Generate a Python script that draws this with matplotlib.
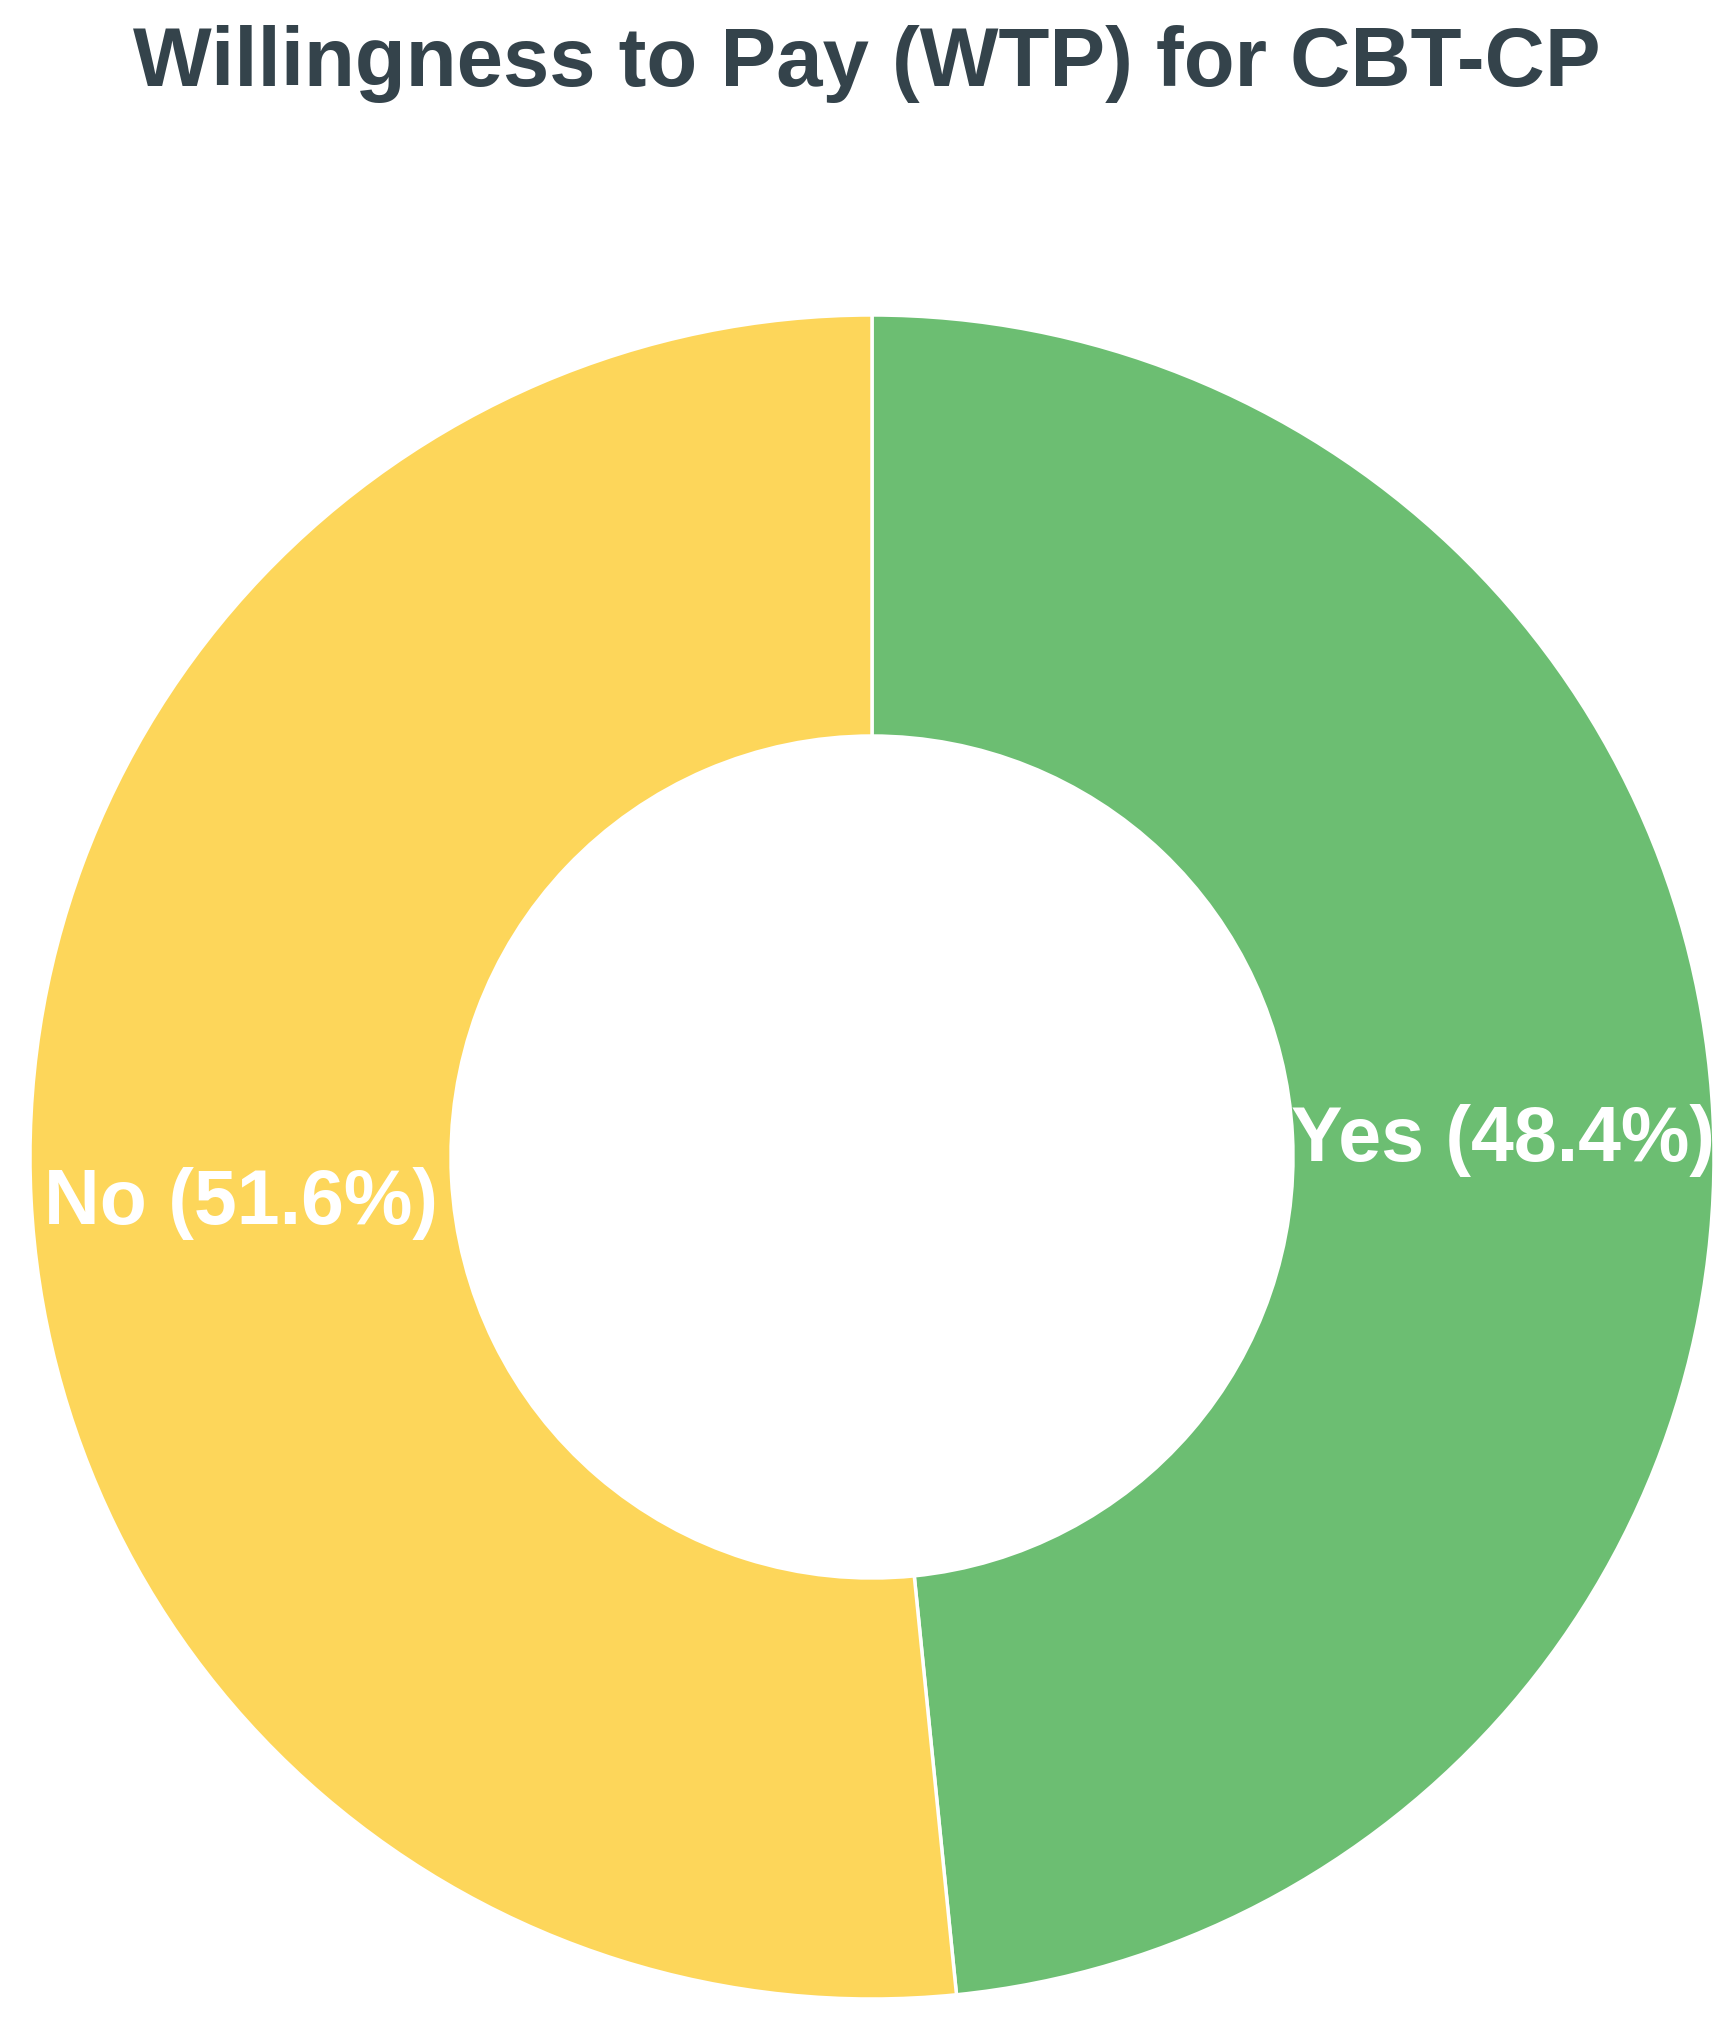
import matplotlib.pyplot as plt
import numpy as np

# Datos
categorias = ['Yes', 'No']
porcentajes = [48.4, 51.6]
colores = ['#6CBE72', '#FDD65A']
titulo = 'Willingness to Pay (WTP) for CBT-CP'

plt.rcParams['font.family'] = ['Liberation Sans', 'DejaVu Sans']

fig = plt.figure(figsize=(17.33, 20.25), dpi=100)
ax = fig.add_axes([30/1733, 26/2025, 1684/1733, 1684/2025])

wedges, _ = ax.pie(porcentajes, colors=colores, startangle=90, counterclock=False,
                   radius=1.0, wedgeprops=dict(width=0.5, edgecolor='white', linewidth=2.5))
ax.set_xlim(-1, 1)
ax.set_ylim(-1, 1)
ax.set_aspect('equal')
ax.axis('off')

# Etiquetas en el centro del anillo
for w, cat, p in zip(wedges, categorias, porcentajes):
    ang = np.deg2rad((w.theta1 + w.theta2) / 2)
    r = 0.75
    ax.text(r*np.cos(ang), r*np.sin(ang) - 0.018, f'{cat} ({p}%)', ha='center', va='center',
            color='white', fontsize=55.5, fontweight='bold')

fig.text(0.5, (2025-86)/2025, titulo, ha='center', va='baseline',
         fontsize=60, fontweight='bold', color='#34434B')

fig.savefig('out.png', dpi=100)
